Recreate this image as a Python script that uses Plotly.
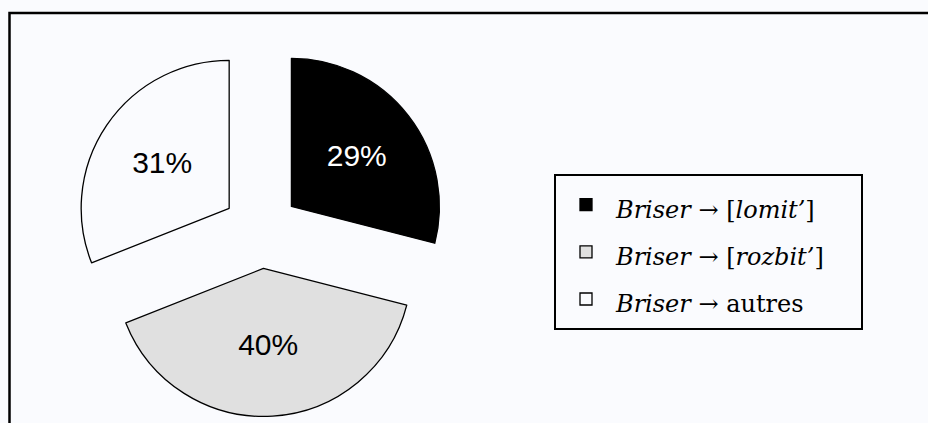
import plotly.graph_objects as go

# Data
labels = [
    "<i>Briser</i> → [<i>lomit’</i>]",
    "<i>Briser</i> → [<i>rozbit’</i>]",
    "<i>Briser</i> → autres",
]
values = [29, 40, 31]
slice_colors = ["#000000", "#E0E0E0", "#FAFBFE"]
text_colors = ["#FFFFFF", "#000000", "#000000"]

W, H = 928, 423
BG = "#FAFBFE"

# pie geometry (pixels)
cx, cy, r, pull = 261, 230, 148, 0.26
half = r * (1 + pull)

legend_labels = [
    '<span style="font-size:24px">' + lab + "&nbsp;&nbsp;&nbsp;&nbsp;</span>" for lab in labels
]

fig = go.Figure(
    go.Pie(
        labels=legend_labels,
        values=values,
        sort=False,
        direction="clockwise",
        rotation=0,
        pull=[pull] * len(values),
        marker=dict(colors=slice_colors, line=dict(color="#000000", width=1.3)),
        textinfo="percent",
        textposition="inside",
        insidetextorientation="horizontal",
        textfont=dict(family="Liberation Sans, Arial, sans-serif", size=30, color=text_colors),
        domain=dict(
            x=[(cx - half) / W, (cx + half) / W],
            y=[(H - cy - half) / H, (H - cy + half) / H],
        ),
        hoverinfo="percent",
    )
)

fig.update_layout(
    width=W,
    height=H,
    margin=dict(l=0, r=0, t=0, b=0),
    paper_bgcolor=BG,
    plot_bgcolor=BG,
    showlegend=True,
    legend=dict(
        x=554 / W,
        y=1 - 174 / H,
        xanchor="left",
        yanchor="top",
        bgcolor=BG,
        bordercolor="#000000",
        borderwidth=2,
        itemwidth=50,
        font=dict(family="DejaVu Serif, serif", size=34, color="#000000"),
        traceorder="normal",
    ),
    shapes=[
        dict(
            type="rect",
            xref="paper",
            yref="paper",
            x0=9.5 / W,
            x1=1.05,
            y0=-0.05,
            y1=1 - 13 / H,
            line=dict(color="#000000", width=2.5),
            fillcolor="rgba(0,0,0,0)",
            layer="below",
        )
    ],
)

fig.write_html(
    "out.html",
    config={"displayModeBar": False},
    post_script="document.body.style.margin='0';document.body.style.overflow='hidden';document.body.style.background='" + BG + "';",
)
